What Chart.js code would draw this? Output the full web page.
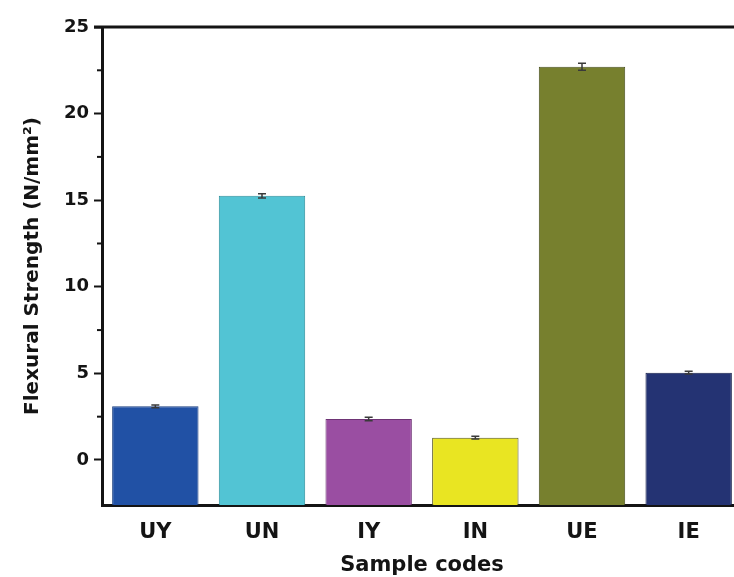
<!DOCTYPE html>
<html>
<head>
<meta charset="utf-8">
<script src="https://cdn.jsdelivr.net/npm/chart.js@4"></script>
<style>
    html, body { margin: 0; padding: 0; background: #fff; overflow: hidden; }
    canvas { display: block; }
</style>
</head>
<body>
<canvas id="flexural-chart" width="744" height="577"></canvas>
<script>
// Flexural strength per sample code

const sampleCodes = ['UY', 'UN', 'IY', 'IN', 'UE', 'IE'];
const strengthValues = [3.1, 15.25, 2.37, 1.29, 22.7, 5.04];
const strengthErrors = [0.08, 0.12, 0.1, 0.08, 0.2, 0.08];
const barColors = ['#2151a5', '#52c4d4', '#9a4ea2', '#e9e522', '#77802e', '#243373'];
const edgeColors = ['#1a3f80', '#2e8f9c', '#6e3475', '#555520', '#4a5020', '#151f4a'];
const yTickValues = [0, 5, 10, 15, 20, 25];
const yMinorTicks = [2.5, 7.5, 12.5, 17.5, 22.5];
const yMin = -2.6;
const yMax = 25;

const fontFamily = '"DejaVu Sans", Verdana, sans-serif';
const textColor = '#141414';

// error bars, minor ticks and the top frame line
const extrasPlugin = {
    id: 'extras',
    afterDatasetsDraw(chart) {
        const ctx = chart.ctx;
        const y = chart.scales.y;
        const area = chart.chartArea;
        const meta = chart.getDatasetMeta(0);
        ctx.save();
        ctx.strokeStyle = '#3a3a3a';
        ctx.lineWidth = 1.5;
        meta.data.forEach((bar, i) => {
            const hi = y.getPixelForValue(strengthValues[i] + strengthErrors[i]);
            const lo = y.getPixelForValue(strengthValues[i] - strengthErrors[i]);
            ctx.beginPath();
            ctx.moveTo(bar.x, hi);
            ctx.lineTo(bar.x, lo);
            ctx.moveTo(bar.x - 4, hi);
            ctx.lineTo(bar.x + 4, hi);
            ctx.moveTo(bar.x - 4, lo);
            ctx.lineTo(bar.x + 4, lo);
            ctx.stroke();
        });

        ctx.strokeStyle = textColor;
        ctx.lineWidth = 2;
        yMinorTicks.forEach(v => {
            const py = y.getPixelForValue(v);
            ctx.beginPath();
            ctx.moveTo(area.left - 5, py);
            ctx.lineTo(area.left, py);
            ctx.stroke();
        });

        ctx.lineWidth = 3;
        ctx.beginPath();
        ctx.moveTo(area.left - 8, area.top);
        ctx.lineTo(chart.width, area.top);
        ctx.stroke();
        ctx.restore();
    }
};

new Chart(document.getElementById('flexural-chart'), {
    type: 'bar',
    data: {
        labels: sampleCodes,
        datasets: [{
            data: strengthValues,
            base: yMin,
            backgroundColor: barColors,
            borderColor: edgeColors,
            borderWidth: 1,
            barPercentage: 0.81,
            categoryPercentage: 1
        }]
    },
    options: {
        responsive: false,
        animation: false,
        layout: { padding: { top: 27, right: 2, left: 0, bottom: 0 } },
        plugins: {
            legend: { display: false },
            tooltip: { enabled: false }
        },
        scales: {
            x: {
                grid: { display: false, drawTicks: false },
                border: { color: textColor, width: 3 },
                ticks: {
                    color: textColor,
                    font: { family: fontFamily, size: 21, weight: 'bold' },
                    padding: 15
                },
                title: {
                    display: true,
                    text: 'Sample codes',
                    color: textColor,
                    font: { family: fontFamily, size: 21, weight: 'bold', lineHeight: 1 },
                    padding: { top: 0, bottom: 1 }
                },
                afterFit: s => { s.height = 72; }
            },
            y: {
                min: yMin,
                max: yMax,
                afterBuildTicks: s => { s.ticks = yTickValues.map(v => ({ value: v })); },
                grid: { drawOnChartArea: false, tickLength: 8, tickWidth: 2, tickColor: textColor },
                border: { color: textColor, width: 3 },
                ticks: {
                    color: textColor,
                    font: { family: fontFamily, size: 18, weight: 'bold' },
                    padding: 5
                },
                title: {
                    display: true,
                    text: 'Flexural Strength (N/mm²)',
                    color: textColor,
                    font: { family: fontFamily, size: 20, weight: 'bold', lineHeight: 1 },
                    padding: { top: 23, bottom: 0 }
                },
                afterFit: s => { s.width = 102; }
            }
        }
    },
    plugins: [extrasPlugin]
});
</script>
</body>
</html>
